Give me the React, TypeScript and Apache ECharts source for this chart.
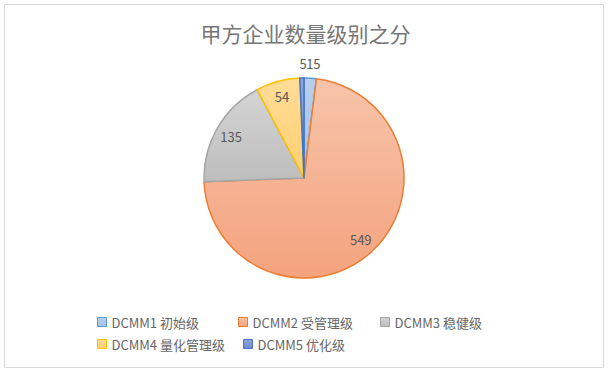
import React, { useEffect, useRef } from "react";
import * as echarts from "echarts";

const titleText = "甲方企业数量级别之分";
const categories = ["DCMM1 初始级", "DCMM2 受管理级", "DCMM3 稳健级", "DCMM4 量化管理级", "DCMM5 优化级"];
const values = [15, 549, 135, 54, 5];

const fillTop = ["#b7cfeb", "#f7c4aa", "#d4d4d4", "#ffdc98", "#90a9da"];
const fillBottom = ["#a5c1e6", "#f4a37e", "#bdbdbd", "#ffcf70", "#6e8ece"];
const borderColors = ["#5b9bd5", "#ed7d31", "#a5a5a5", "#ffc000", "#4472c4"];

const legendPos = [
  [97, 315],
  [238, 315],
  [380, 315],
  [97, 337],
  [243, 337],
];

const FONT = "'Noto Sans CJK SC', 'Noto Sans', sans-serif";

export default function App() {
  const ref = useRef<HTMLDivElement>(null);
  useEffect(() => {
    document.body.style.margin = "0";
    const chart = echarts.init(ref.current!, null, { renderer: "svg" });
    const total = values.reduce((a, b) => a + b, 0);
    const mainData = categories.map((name, i) => {
      const small = values[i] / total < 0.03;
      return {
        name,
        value: values[i],
        itemStyle: {
          color: new echarts.graphic.LinearGradient(0, 0, 0, 1, [
            { offset: 0, color: fillTop[i] },
            { offset: 1, color: fillBottom[i] },
          ]),
          borderColor: borderColors[i],
          borderWidth: 1.5,
        },
        label: { show: small },
      };
    });
    const labelData = categories.map((name, i) => ({
      name,
      value: values[i],
      label: { show: values[i] / total >= 0.03 },
    }));
    chart.setOption({
      animation: false,
      backgroundColor: "#ffffff",
      title: {
        text: titleText,
        left: "center",
        top: 17,
        textStyle: { fontFamily: FONT, fontSize: 21, fontWeight: "normal", color: "#767676" },
      },
      legend: legendPos.map((p, i) => ({
        data: [categories[i]],
        left: p[0],
        top: p[1],
        padding: 0,
        icon: "rect",
        itemWidth: 9,
        itemHeight: 9,
        itemGap: 0,
        selectedMode: false,
        itemStyle: { borderWidth: 1 },
        textStyle: { fontFamily: FONT, fontSize: 13, color: "#666666", lineHeight: 14 },
      })),
      graphic: [
        {
          type: "rect",
          shape: { x: 4.5, y: 4.5, width: 599, height: 363 },
          style: { fill: "none", stroke: "#d9d9d9", lineWidth: 1 },
          silent: true,
        },
      ],
      series: [
        {
          type: "pie",
          center: [304, 178],
          radius: [0, 100],
          startAngle: 90,
          clockwise: true,
          avoidLabelOverlap: false,
          labelLayout: { hideOverlap: false },
          data: mainData,
          label: {
            position: "outside",
            distanceToLabelLine: -5,
            fontFamily: FONT,
            fontSize: 13,
            color: "#595959",
            formatter: "{c}",
          },
          labelLine: { show: false, length: 15, length2: 0 },
          emphasis: { disabled: true },
        },
        {
          type: "pie",
          center: [304, 178],
          radius: [62, 100],
          startAngle: 90,
          clockwise: true,
          silent: true,
          legendHoverLink: false,
          data: labelData,
          itemStyle: { color: "rgba(0,0,0,0)", borderWidth: 0 },
          label: {
            position: "inside",
            fontFamily: FONT,
            fontSize: 13,
            color: "#595959",
            formatter: "{c}",
          },
          labelLine: { show: false },
          emphasis: { disabled: true },
        },
      ],
    });
    return () => chart.dispose();
  }, []);
  return <div ref={ref} style={{ width: 611, height: 379 }} />;
}
